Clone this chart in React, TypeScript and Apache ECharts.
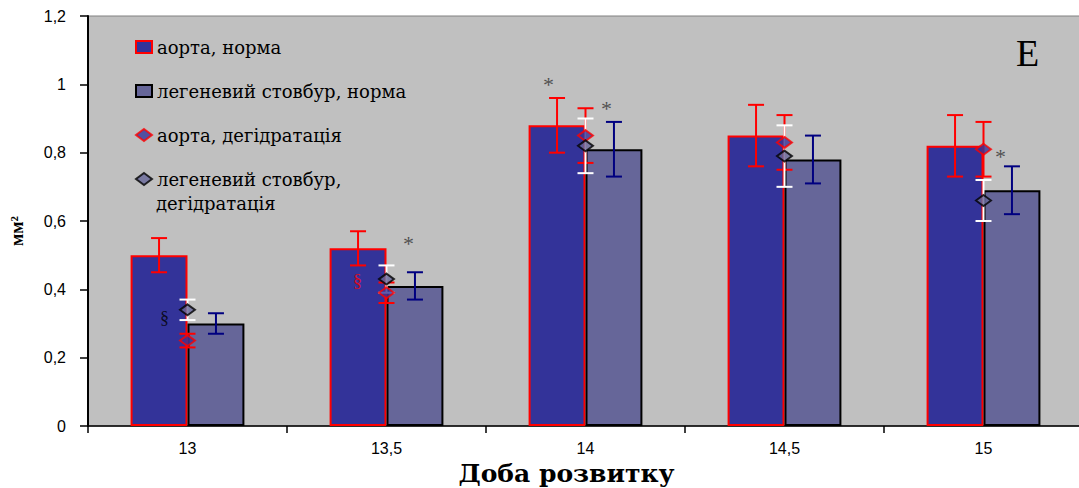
import React, { useEffect, useRef } from "react";
import * as echarts from "echarts";

const categories = ["13", "13,5", "14", "14,5", "15"];
const aortaNorm = [0.5, 0.52, 0.88, 0.85, 0.82];
const aortaNormErr = [0.05, 0.05, 0.08, 0.09, 0.09];
const lungNorm = [0.3, 0.41, 0.81, 0.78, 0.69];
const lungNormErr = [0.03, 0.04, 0.08, 0.07, 0.07];
const aortaDeh = [0.25, 0.39, 0.85, 0.83, 0.81];
const aortaDehErr = [0.02, 0.03, 0.08, 0.08, 0.08];
const lungDeh = [0.34, 0.43, 0.82, 0.79, 0.66];
const lungDehErr = [0.03, 0.04, 0.08, 0.09, 0.06];

const yTicks = { min: 0, max: 1.2, interval: 0.2 };

// significance marks: [category index, value, text]
const marks: [number, number, string][] = [
  [2, 1.0, "*"],
  [2, 0.93, "*"],
  [1, 0.535, "*"],
  [4, 0.79, "*"],
  [0, 0.316, "§"],
  [1, 0.424, "§"],
];
const markShift = [-37, 21, 22, 17, -23, -29];
const markColor = ["#333", "#333", "#333", "#333", "#000", "#f00"];

const names = [
  "аорта, норма",
  "легеневий стовбур, норма",
  "аорта, дегідратація",
  "легеневий стовбур,",
];
const lastLegendSecondLine = "дегідратація";

const BAR_FRAC = 0.286;
const LEGEND_FONT = "18px 'DejaVu Serif'";

function errSeries(vals: number[], errs: number[], shift: number, color: string, z: number) {
  return {
    type: "custom",
    silent: true,
    z,
    data: vals.map((v, i) => [i, v - errs[i], v + errs[i]]),
    renderItem: (params: any, api: any) => {
      const i = api.value(0);
      const band = api.size([1, 0])[0];
      const dx = band * BAR_FRAC * shift;
      const lo = api.coord([i, api.value(1)]);
      const hi = api.coord([i, api.value(2)]);
      const x = lo[0] + dx;
      const cap = 8;
      const st = { stroke: color, lineWidth: 2 };
      return {
        type: "group",
        children: [
          { type: "line", shape: { x1: x, y1: lo[1], x2: x, y2: hi[1] }, style: st },
          { type: "line", shape: { x1: x - cap, y1: lo[1], x2: x + cap, y2: lo[1] }, style: st },
          { type: "line", shape: { x1: x - cap, y1: hi[1], x2: x + cap, y2: hi[1] }, style: st },
        ],
      };
    },
  };
}

export default function App() {
  const ref = useRef<HTMLDivElement>(null);
  useEffect(() => {
    const chart = echarts.init(ref.current!, null, { renderer: "svg" });
    chart.setOption({
      animation: false,
      backgroundColor: "#ffffff",
      grid: {
        left: 88,
        top: 16,
        width: 995,
        height: 410,
        show: true,
        backgroundColor: "#C0C0C0",
        borderColor: "#808080",
        borderWidth: 1,
        outerBoundsMode: "none",
        containLabel: false,
      },
      legend: {
        orient: "vertical",
        left: 130,
        top: 31,
        itemWidth: 16,
        itemHeight: 12,
        itemGap: 22,
        selectedMode: false,
        data: [
          { name: names[0], icon: "rect" },
          { name: names[1], icon: "rect" },
          { name: names[2], icon: "diamond" },
          { name: names[3], icon: "diamond" },
        ],
        textStyle: {
          fontFamily: "DejaVu Serif",
          fontSize: 18,
          lineHeight: 22,
          color: "#000",
        },
      },
      graphic: [
        {
          type: "text",
          left: 1016,
          top: 34,
          style: { text: "E", font: "38px 'Liberation Serif'", fill: "#000" },
        },
        {
          type: "text",
          x: 156,
          y: 203,
          style: {
            text: lastLegendSecondLine,
            font: LEGEND_FONT,
            fill: "#000",
            verticalAlign: "middle",
          },
        },
      ],
      xAxis: {
        type: "category",
        data: categories,
        axisLine: { lineStyle: { color: "#000", width: 1.5 } },
        axisTick: { show: true, length: 7, lineStyle: { color: "#000", width: 1.5 } },
        axisLabel: { margin: 14, fontFamily: "Liberation Sans", fontSize: 16, color: "#000" },
        name: "Доба розвитку",
        nameLocation: "middle",
        nameGap: 35,
        nameTextStyle: {
          fontFamily: "DejaVu Serif",
          fontWeight: "bold",
          fontSize: 25,
          color: "#000",
          padding: [0, 38, 0, 0],
        },
      },
      yAxis: {
        type: "value",
        min: yTicks.min,
        max: yTicks.max,
        interval: yTicks.interval,
        splitLine: { show: false },
        axisLine: { show: true, lineStyle: { color: "#000", width: 2 } },
        axisTick: { show: true, length: 8, lineStyle: { color: "#000", width: 1.5 } },
        axisLabel: {
          margin: 22,
          fontFamily: "Liberation Sans",
          fontSize: 16,
          color: "#000",
          formatter: (v: number) => String(Math.round(v * 10) / 10).replace(".", ","),
        },
        name: "мм²",
        nameLocation: "middle",
        nameGap: 62,
        nameTextStyle: {
          fontFamily: "Liberation Serif",
          fontWeight: "bold",
          fontSize: 18,
          color: "#000",
          padding: [0, 20, 0, 0],
        },
      },
      series: [
        {
          name: names[0],
          type: "bar",
          data: aortaNorm,
          barWidth: "28.6%",
          barGap: "0%",
          itemStyle: { color: "#333399", borderColor: "#FF0000", borderWidth: 2 },
          z: 2,
        },
        {
          name: names[1],
          type: "bar",
          data: lungNorm,
          barWidth: "28.6%",
          barGap: "0%",
          itemStyle: { color: "#666699", borderColor: "#000000", borderWidth: 2 },
          z: 2,
        },
        errSeries(aortaNorm, aortaNormErr, -0.5, "#FF0000", 3),
        errSeries(lungNorm, lungNormErr, 0.5, "#000080", 3),
        errSeries(aortaDeh, aortaDehErr, 0, "#FF0000", 4),
        errSeries(lungDeh, lungDehErr, 0, "#FFFFFF", 5),
        {
          name: names[2],
          type: "scatter",
          symbol: "diamond",
          symbolSize: [15, 11],
          data: aortaDeh,
          itemStyle: { color: "#333399", borderColor: "#FF0000", borderWidth: 2 },
          z: 6,
        },
        {
          name: names[3],
          type: "scatter",
          symbol: "diamond",
          symbolSize: [15, 11],
          data: lungDeh,
          itemStyle: { color: "#666699", borderColor: "#000000", borderWidth: 2 },
          z: 7,
        },
        {
          type: "scatter",
          silent: true,
          symbolSize: 0,
          z: 8,
          data: marks.map((m, k) => ({
            value: [m[0], m[1]],
            label: {
              show: true,
              formatter: m[2],
              position: "inside",
              offset: [markShift[k], m[2] === "*" ? 0 : 0],
              color: markColor[k],
              fontFamily: "Liberation Serif",
              fontSize: m[2] === "*" ? 22 : 18,
            },
          })),
        },
      ],
    });
    return () => chart.dispose();
  }, []);
  return (
    <div
      ref={ref}
      style={{ position: "absolute", left: 0, top: 0, width: 1079, height: 488 }}
    />
  );
}
